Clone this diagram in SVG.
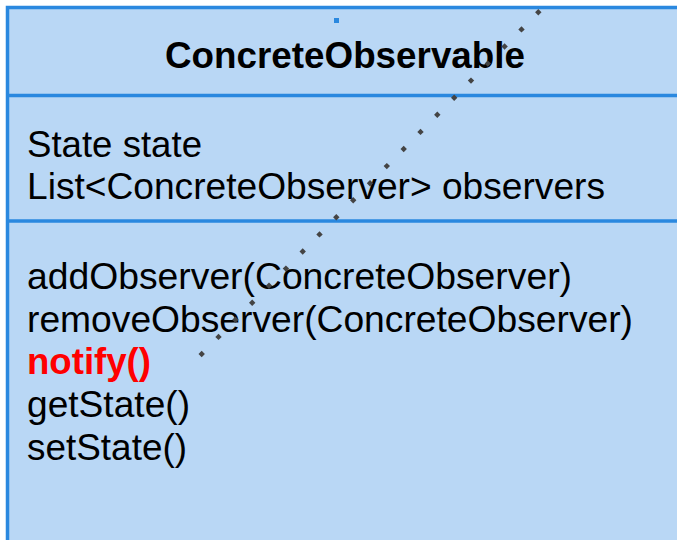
<svg xmlns="http://www.w3.org/2000/svg" width="677" height="540" viewBox="0 0 677 540">
  <style>
    .box { fill: #b9d7f5; stroke: #2a88df; stroke-width: 3.5; }
    .divider { stroke: #2a88df; stroke-width: 3.5; }
    .title { font-family: "Liberation Sans", Arial, sans-serif; font-weight: bold; font-size: 37.3px; fill: #000; }
    .member { font-family: "Liberation Sans", Arial, sans-serif; font-size: 37.3px; fill: #000; }
    .highlight { font-weight: bold; fill: #ff0000; }
    .dotted { fill: none; stroke: none; marker-start: url(#dot); marker-mid: url(#dot); marker-end: url(#dot); }
  </style>
  <defs>
    <!-- diamond-shaped dot used along the dotted dependency line -->
    <marker id="dot" markerUnits="userSpaceOnUse" markerWidth="8" markerHeight="8" refX="4" refY="4" orient="0" overflow="visible">
      <polygon points="4,0.8 7.2,4 4,7.2 0.8,4" fill="#444444"/>
    </marker>
  </defs>

  <!-- UML class box: ConcreteObservable -->
  <g id="concrete-observable">
    <rect class="box" x="7.5" y="7.5" width="700" height="560"/>
    <line class="divider" x1="7.5" y1="95.5" x2="677" y2="95.5"/>
    <line class="divider" x1="7.5" y1="221" x2="677" y2="221"/>

    <text class="title" x="345" y="67.5" text-anchor="middle" textLength="360" lengthAdjust="spacingAndGlyphs">ConcreteObservable</text>

    <!-- attributes -->
    <text class="member" x="27" y="156.5" textLength="175" lengthAdjust="spacingAndGlyphs">State state</text>
    <text class="member" x="27" y="199" textLength="578" lengthAdjust="spacingAndGlyphs">List&lt;ConcreteObserver&gt; observers</text>

    <!-- operations -->
    <text class="member" x="27" y="289" textLength="545" lengthAdjust="spacingAndGlyphs">addObserver(ConcreteObserver)</text>
    <text class="member" x="27" y="331.7" textLength="606" lengthAdjust="spacingAndGlyphs">removeObserver(ConcreteObserver)</text>
    <text class="member highlight" x="27" y="374.4" textLength="124" lengthAdjust="spacingAndGlyphs">notify()</text>
    <text class="member" x="27" y="417.1" textLength="163" lengthAdjust="spacingAndGlyphs">getState()</text>
    <text class="member" x="27" y="459.8" textLength="160" lengthAdjust="spacingAndGlyphs">setState()</text>
  </g>

  <!-- connectors -->
  <g id="connectors">
    <polyline class="dotted" points="538.3,12.3 521.5,29.4 504.6,46.5 487.8,63.6 471,80.6 454.2,97.7 437.3,114.8 420.5,131.9 403.7,149 386.8,166.1 370,183.2 353.2,200.2 336.3,217.3 319.5,234.4 302.7,251.5 285.9,268.6 269,285.7 252.2,302.8 235.4,319.8 218.5,336.9 201.7,354"/>
    <rect x="334" y="18" width="5" height="5" fill="#2a88df"/>
  </g>
</svg>
